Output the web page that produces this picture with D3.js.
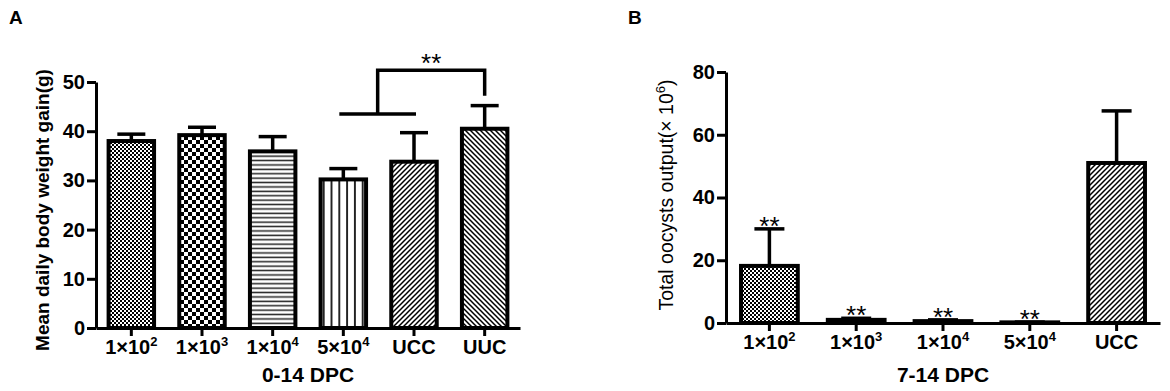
<!DOCTYPE html>
<html>
<head>
<meta charset="utf-8">
<script src="https://cdn.jsdelivr.net/npm/d3@7"></script>
<style>
  body { margin: 0; background: #fff; }
  svg { display: block; font-family: Arial, "Liberation Sans", sans-serif; }
</style>
</head>
<body>
<script>
// panel A: 0-14 DPC weight gain
var groupsA = ["1×10^2", "1×10^3", "1×10^4", "5×10^4", "UCC", "UUC"];
var meansA = [38.0, 39.2, 35.9, 30.2, 33.8, 40.5];
var errsA = [1.4, 1.6, 3.0, 2.2, 5.9, 4.7];
var patternsA = ["checkFine", "checkBig", "hlines", "vlines", "diagUp", "diagDown"];
var ticksA = [0, 10, 20, 30, 40, 50];
// bracket: from [5×10^4, UCC] up and over to UUC (values on y scale)
var bracketLevels = [43.5, 52.4, 47.2];

// panel B: 7-14 DPC oocyst output
var groupsB = ["1×10^2", "1×10^3", "1×10^4", "5×10^4", "UCC"];
var meansB = [18.2, 1.0, 0.6, 0.2, 51.0];
var errsB = [11.8, 0.5, 0.4, 0.1, 16.6];
var starsB = ["**", "**", "**", "**", ""];
var patternsB = ["checkFine", "checkBig", "hlines", "vlines", "diagUp"];
var ticksB = [0, 20, 40, 60, 80];

var width = 1170, height = 391;

var svg = d3.select("body").append("svg")
    .attr("width", width)
    .attr("height", height);

// fill patterns
var defs = svg.append("defs");
function pat(id, w, h) {
    var p = defs.append("pattern").attr("id", id)
        .attr("patternUnits", "userSpaceOnUse")
        .attr("width", w).attr("height", h);
    p.append("rect").attr("width", w).attr("height", h).attr("fill", "#fff");
    return p;
}
var p1 = pat("checkFine", 4, 4);
p1.append("rect").attr("width", 2).attr("height", 2).attr("fill", "#000");
p1.append("rect").attr("x", 2).attr("y", 2).attr("width", 2).attr("height", 2).attr("fill", "#000");
var p2 = pat("checkBig", 8, 8);
p2.append("rect").attr("width", 4).attr("height", 4).attr("fill", "#000");
p2.append("rect").attr("x", 4).attr("y", 4).attr("width", 4).attr("height", 4).attr("fill", "#000");
var p3 = pat("hlines", 8, 4.4);
p3.append("rect").attr("y", 1.4).attr("width", 8).attr("height", 1.5).attr("fill", "#222");
var p4 = pat("vlines", 7.8, 8);
p4.append("rect").attr("x", 3).attr("width", 1.8).attr("height", 8).attr("fill", "#111");
var p5 = pat("diagUp", 5, 5);
p5.append("path").attr("d", "M0,5L5,0M-1,1L1,-1M4,6L6,4")
    .attr("stroke", "#000").attr("stroke-width", 1.5);
var p6 = pat("diagDown", 5, 5);
p6.append("path").attr("d", "M0,0L5,5M-1,4L1,6M4,-1L6,1")
    .attr("stroke", "#000").attr("stroke-width", 1.5);

function catLabel(sel) {
    sel.each(function (d) {
        var t = d3.select(this).text(null);
        var parts = d.split("^");
        t.append("tspan").text(parts[0]);
        if (parts[1]) t.append("tspan").attr("dy", -8).attr("font-size", 13).text(parts[1]);
    });
}

function panel(opt) {
    var g = svg.append("g");
    var x = d3.scaleBand().domain(opt.groups).range(opt.xr).paddingInner(0.3).paddingOuter(0.15);
    var y = d3.scaleLinear().domain(opt.ydom).range(opt.yr);

    // bars
    g.selectAll("rect.bar")
        .data(opt.groups)
        .join("rect")
        .attr("class", "bar")
        .attr("x", d => x(d) + 2)
        .attr("width", x.bandwidth() - 4)
        .attr("y", (d, i) => y(opt.means[i]))
        .attr("height", (d, i) => y(0) - y(opt.means[i]))
        .attr("fill", (d, i) => "url(#" + opt.patterns[i] + ")")
        .attr("stroke", "#000")
        .attr("stroke-width", 4);

    // error bars (upper only)
    var eb = g.append("g").attr("stroke", "#000").attr("stroke-width", 3.5).attr("fill", "none");
    opt.groups.forEach(function (d, i) {
        var cx = x(d) + x.bandwidth() / 2;
        var top = y(opt.means[i] + opt.errs[i]);
        eb.append("line").attr("x1", cx).attr("x2", cx).attr("y1", y(opt.means[i])).attr("y2", top);
        eb.append("line").attr("x1", cx - opt.cap / 2).attr("x2", cx + opt.cap / 2).attr("y1", top).attr("y2", top);
    });

    // axes
    var ya = g.append("g")
        .attr("transform", "translate(" + opt.xr[0] + ",0)")
        .call(d3.axisLeft(y).tickValues(opt.ticks).tickSize(9).tickSizeOuter(0).tickPadding(2));
    var xa = g.append("g")
        .attr("transform", "translate(0," + y(0) + ")")
        .call(d3.axisBottom(x).tickSize(8).tickSizeOuter(0).tickPadding(4));
    xa.selectAll(".tick text").call(catLabel);
    [ya, xa].forEach(function (a) {
        a.select(".domain").attr("stroke", "#000").attr("stroke-width", 3);
        a.selectAll(".tick line").attr("stroke", "#000").attr("stroke-width", 3);
        a.selectAll(".tick text").attr("fill", "#000").attr("font-size", 20)
            .attr("font-weight", "bold").attr("font-family", null);
        a.attr("font-family", null);
    });

    // axis titles
    g.append("text")
        .attr("x", (opt.xr[0] + opt.xr[1]) / 2)
        .attr("y", 382)
        .attr("text-anchor", "middle")
        .attr("font-size", 21)
        .attr("font-weight", "bold")
        .text(opt.xtitle);

    var yt = g.append("text")
        .attr("transform", "translate(" + opt.ytx + "," + opt.yty + ") rotate(-90)")
        .attr("text-anchor", "middle")
        .attr("font-size", opt.ytsize)
        .attr("font-weight", opt.ytweight);
    opt.ytitle.forEach(function (s) {
        var ts = yt.append("tspan").text(s.t);
        if (s.sup) ts.attr("dy", -8).attr("font-size", 13);
        if (s.down) ts.attr("dy", 8);
    });

    // panel letter
    g.append("text")
        .attr("x", opt.letterX).attr("y", 24)
        .attr("font-size", 19).attr("font-weight", "bold")
        .text(opt.letter);

    return { g: g, x: x, y: y };
}

var A = panel({
    groups: groupsA, means: meansA, errs: errsA, patterns: patternsA, ticks: ticksA,
    xr: [96, 520], yr: [328, 82], ydom: [0, 50], cap: 28,
    xtitle: "0-14 DPC",
    ytitle: [{ t: "Mean daily body weight gain(g)" }],
    ytx: 49, yty: 210, ytsize: 19, ytweight: "bold",
    letter: "A", letterX: 9
});

var B = panel({
    groups: groupsB, means: meansB, errs: errsB, patterns: patternsB, ticks: ticksB,
    xr: [726, 1160], yr: [323, 72], ydom: [0, 80], cap: 30,
    xtitle: "7-14 DPC",
    ytitle: [{ t: "Total oocysts output(× 10" }, { t: "6", sup: true }, { t: ")", down: true }],
    ytx: 673, yty: 195, ytsize: 19.5, ytweight: "normal",
    letter: "B", letterX: 628
});

// significance bracket in A
var xA = A.x, yA = A.y;
var bl = xA(groupsA[3]) + xA.bandwidth() / 2 - 4;
var br = xA(groupsA[4]) + xA.bandwidth() / 2 + 2;
var bm = (bl + br) / 2;
var bt = xA(groupsA[5]) + xA.bandwidth() / 2;
var br_g = A.g.append("g").attr("stroke", "#000").attr("stroke-width", 3.5).attr("fill", "none");
br_g.append("line").attr("x1", bl).attr("x2", br).attr("y1", yA(bracketLevels[0])).attr("y2", yA(bracketLevels[0]));
br_g.append("path")
    .attr("d", d3.line()([[bm, yA(bracketLevels[0])], [bm, yA(bracketLevels[1])], [bt, yA(bracketLevels[1])], [bt, yA(bracketLevels[2])]]));
A.g.append("text")
    .attr("x", (bm + bt) / 2).attr("y", yA(bracketLevels[1]) + 2)
    .attr("text-anchor", "middle").attr("font-size", 26)
    .text("**");

// significance stars in B
B.g.selectAll("text.star")
    .data(groupsB)
    .join("text")
    .attr("class", "star")
    .attr("x", d => B.x(d) + B.x.bandwidth() / 2)
    .attr("y", (d, i) => B.y(meansB[i] + errsB[i]) + 6)
    .attr("text-anchor", "middle")
    .attr("font-size", 26)
    .text((d, i) => starsB[i]);
</script>
</body>
</html>
